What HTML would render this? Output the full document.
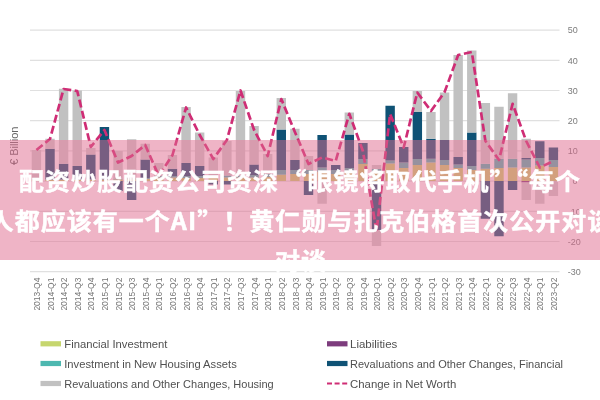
<!DOCTYPE html>
<html lang="zh-CN"><head><meta charset="utf-8"><title>chart</title>
<style>
html,body{margin:0;padding:0;background:#fff;}
body{width:600px;height:400px;position:relative;overflow:hidden;}
.banner{position:absolute;left:0;top:140px;width:600px;height:120px;background:rgba(223,105,142,0.5);}
.title{position:absolute;left:-99px;width:800px;top:159.5px;text-align:center;color:#fff;
font-family:"Noto Sans CJK SC","Liberation Sans",sans-serif;font-weight:700;font-size:25px;letter-spacing:1px;word-spacing:-4px;line-height:40px;white-space:nowrap;-webkit-text-stroke:0.5px #fff;text-spacing-trim:space-all;}
.title div{white-space:nowrap;transform:scaleY(0.935);transform-origin:50% 50%;}
</style></head><body>
<svg width="600" height="400" viewBox="0 0 600 400" style="position:absolute;left:0;top:0">
<g stroke="#e0e0e0" stroke-width="1.2">
<line x1="30" x2="559.5" y1="30.10" y2="30.10"/>
<line x1="30" x2="559.5" y1="60.30" y2="60.30"/>
<line x1="30" x2="559.5" y1="90.50" y2="90.50"/>
<line x1="30" x2="559.5" y1="120.70" y2="120.70"/>
<line x1="30" x2="559.5" y1="150.90" y2="150.90"/>
<line x1="30" x2="559.5" y1="181.10" y2="181.10"/>
<line x1="30" x2="559.5" y1="211.30" y2="211.30"/>
<line x1="30" x2="559.5" y1="241.50" y2="241.50"/>
<line x1="30" x2="559.5" y1="271.70" y2="271.70"/>
</g>
<g>
<rect x="31.70" y="179.80" width="9.4" height="1.20" fill="#c6d66e"/>
<rect x="31.70" y="179.20" width="9.4" height="0.60" fill="#4db8b0"/>
<rect x="31.70" y="150.00" width="9.4" height="29.20" fill="#cecece"/>
<rect x="45.31" y="179.80" width="9.4" height="1.20" fill="#c6d66e"/>
<rect x="45.31" y="179.20" width="9.4" height="0.60" fill="#4db8b0"/>
<rect x="45.31" y="148.75" width="9.4" height="30.45" fill="#0f5275"/>
<rect x="45.31" y="138.75" width="9.4" height="1.25" fill="#c1c1c1"/>
<rect x="45.31" y="140.00" width="9.4" height="8.75" fill="#cecece"/>
<rect x="58.91" y="179.80" width="9.4" height="1.20" fill="#c6d66e"/>
<rect x="58.91" y="179.20" width="9.4" height="0.60" fill="#4db8b0"/>
<rect x="58.91" y="163.75" width="9.4" height="15.45" fill="#0f5275"/>
<rect x="58.91" y="88.75" width="9.4" height="51.25" fill="#c1c1c1"/>
<rect x="58.91" y="140.00" width="9.4" height="23.75" fill="#cecece"/>
<rect x="72.52" y="179.80" width="9.4" height="1.20" fill="#c6d66e"/>
<rect x="72.52" y="179.20" width="9.4" height="0.60" fill="#4db8b0"/>
<rect x="72.52" y="166.00" width="9.4" height="13.20" fill="#0f5275"/>
<rect x="72.52" y="90.50" width="9.4" height="49.50" fill="#c1c1c1"/>
<rect x="72.52" y="140.00" width="9.4" height="26.00" fill="#cecece"/>
<rect x="86.12" y="179.80" width="9.4" height="1.20" fill="#c6d66e"/>
<rect x="86.12" y="179.20" width="9.4" height="0.60" fill="#4db8b0"/>
<rect x="86.12" y="154.50" width="9.4" height="24.70" fill="#0f5275"/>
<rect x="86.12" y="148.00" width="9.4" height="6.50" fill="#cecece"/>
<rect x="99.73" y="179.60" width="9.4" height="1.40" fill="#c6d66e"/>
<rect x="99.73" y="179.00" width="9.4" height="0.60" fill="#4db8b0"/>
<rect x="99.73" y="127.00" width="9.4" height="52.00" fill="#0f5275"/>
<rect x="113.33" y="179.40" width="9.4" height="1.60" fill="#c6d66e"/>
<rect x="113.33" y="178.60" width="9.4" height="0.80" fill="#4db8b0"/>
<rect x="113.33" y="151.00" width="9.4" height="27.60" fill="#cecece"/>
<rect x="113.33" y="181.00" width="9.4" height="10.00" fill="#0f5275"/>
<rect x="126.94" y="179.30" width="9.4" height="1.70" fill="#c6d66e"/>
<rect x="126.94" y="178.40" width="9.4" height="0.90" fill="#4db8b0"/>
<rect x="126.94" y="139.25" width="9.4" height="0.75" fill="#c1c1c1"/>
<rect x="126.94" y="140.00" width="9.4" height="38.40" fill="#cecece"/>
<rect x="126.94" y="181.00" width="9.4" height="19.00" fill="#0f5275"/>
<rect x="140.54" y="179.00" width="9.4" height="2.00" fill="#c6d66e"/>
<rect x="140.54" y="178.00" width="9.4" height="1.00" fill="#4db8b0"/>
<rect x="140.54" y="159.50" width="9.4" height="18.50" fill="#0f5275"/>
<rect x="140.54" y="143.75" width="9.4" height="15.75" fill="#cecece"/>
<rect x="154.15" y="177.50" width="9.4" height="3.50" fill="#c6d66e"/>
<rect x="154.15" y="176.00" width="9.4" height="1.50" fill="#4db8b0"/>
<rect x="154.15" y="163.00" width="9.4" height="13.00" fill="#cecece"/>
<rect x="167.75" y="177.50" width="9.4" height="3.50" fill="#c6d66e"/>
<rect x="167.75" y="176.00" width="9.4" height="1.50" fill="#4db8b0"/>
<rect x="167.75" y="168.75" width="9.4" height="7.25" fill="#0f5275"/>
<rect x="167.75" y="155.00" width="9.4" height="13.75" fill="#cecece"/>
<rect x="181.36" y="178.00" width="9.4" height="3.00" fill="#c6d66e"/>
<rect x="181.36" y="176.00" width="9.4" height="2.00" fill="#4db8b0"/>
<rect x="181.36" y="163.00" width="9.4" height="13.00" fill="#0f5275"/>
<rect x="181.36" y="107.00" width="9.4" height="33.00" fill="#c1c1c1"/>
<rect x="181.36" y="140.00" width="9.4" height="23.00" fill="#cecece"/>
<rect x="194.96" y="178.00" width="9.4" height="3.00" fill="#c6d66e"/>
<rect x="194.96" y="176.00" width="9.4" height="2.00" fill="#4db8b0"/>
<rect x="194.96" y="166.00" width="9.4" height="10.00" fill="#0f5275"/>
<rect x="194.96" y="132.50" width="9.4" height="7.50" fill="#c1c1c1"/>
<rect x="194.96" y="140.00" width="9.4" height="26.00" fill="#cecece"/>
<rect x="208.57" y="177.50" width="9.4" height="3.50" fill="#c6d66e"/>
<rect x="208.57" y="175.50" width="9.4" height="2.00" fill="#4db8b0"/>
<rect x="208.57" y="157.50" width="9.4" height="18.00" fill="#cecece"/>
<rect x="208.57" y="181.00" width="9.4" height="3.50" fill="#0f5275"/>
<rect x="222.17" y="177.50" width="9.4" height="3.50" fill="#c6d66e"/>
<rect x="222.17" y="175.50" width="9.4" height="2.00" fill="#4db8b0"/>
<rect x="222.17" y="141.00" width="9.4" height="34.50" fill="#cecece"/>
<rect x="222.17" y="181.00" width="9.4" height="3.50" fill="#0f5275"/>
<rect x="235.78" y="177.50" width="9.4" height="3.50" fill="#c6d66e"/>
<rect x="235.78" y="175.50" width="9.4" height="2.00" fill="#4db8b0"/>
<rect x="235.78" y="91.00" width="9.4" height="49.00" fill="#c1c1c1"/>
<rect x="235.78" y="140.00" width="9.4" height="35.50" fill="#cecece"/>
<rect x="249.38" y="177.50" width="9.4" height="3.50" fill="#c6d66e"/>
<rect x="249.38" y="175.00" width="9.4" height="2.50" fill="#4db8b0"/>
<rect x="249.38" y="164.50" width="9.4" height="10.50" fill="#0f5275"/>
<rect x="249.38" y="126.00" width="9.4" height="14.00" fill="#c1c1c1"/>
<rect x="249.38" y="140.00" width="9.4" height="24.50" fill="#cecece"/>
<rect x="262.99" y="177.00" width="9.4" height="4.00" fill="#c6d66e"/>
<rect x="262.99" y="174.00" width="9.4" height="3.00" fill="#4db8b0"/>
<rect x="262.99" y="154.00" width="9.4" height="20.00" fill="#cecece"/>
<rect x="276.59" y="174.70" width="9.4" height="6.30" fill="#c6d66e"/>
<rect x="276.59" y="170.00" width="9.4" height="4.70" fill="#4db8b0"/>
<rect x="276.59" y="129.50" width="9.4" height="40.50" fill="#0f5275"/>
<rect x="276.59" y="98.00" width="9.4" height="31.50" fill="#c1c1c1"/>
<rect x="290.20" y="174.00" width="9.4" height="7.00" fill="#c6d66e"/>
<rect x="290.20" y="170.00" width="9.4" height="4.00" fill="#4db8b0"/>
<rect x="290.20" y="160.00" width="9.4" height="10.00" fill="#0f5275"/>
<rect x="290.20" y="128.75" width="9.4" height="11.25" fill="#c1c1c1"/>
<rect x="290.20" y="140.00" width="9.4" height="20.00" fill="#cecece"/>
<rect x="303.81" y="174.00" width="9.4" height="7.00" fill="#c6d66e"/>
<rect x="303.81" y="170.00" width="9.4" height="4.00" fill="#4db8b0"/>
<rect x="303.81" y="156.00" width="9.4" height="14.00" fill="#cecece"/>
<rect x="303.81" y="181.00" width="9.4" height="14.00" fill="#0f5275"/>
<rect x="317.41" y="172.00" width="9.4" height="9.00" fill="#c6d66e"/>
<rect x="317.41" y="167.50" width="9.4" height="4.50" fill="#4db8b0"/>
<rect x="317.41" y="135.00" width="9.4" height="32.50" fill="#0f5275"/>
<rect x="317.41" y="181.00" width="9.4" height="22.75" fill="#cecece"/>
<rect x="331.02" y="174.00" width="9.4" height="7.00" fill="#c6d66e"/>
<rect x="331.02" y="170.00" width="9.4" height="4.00" fill="#4db8b0"/>
<rect x="331.02" y="165.00" width="9.4" height="5.00" fill="#0f5275"/>
<rect x="344.62" y="172.00" width="9.4" height="9.00" fill="#c6d66e"/>
<rect x="344.62" y="168.00" width="9.4" height="4.00" fill="#4db8b0"/>
<rect x="344.62" y="134.50" width="9.4" height="33.50" fill="#0f5275"/>
<rect x="344.62" y="112.50" width="9.4" height="22.00" fill="#c1c1c1"/>
<rect x="358.23" y="164.00" width="9.4" height="17.00" fill="#c6d66e"/>
<rect x="358.23" y="159.00" width="9.4" height="5.00" fill="#4db8b0"/>
<rect x="358.23" y="143.00" width="9.4" height="16.00" fill="#0f5275"/>
<rect x="371.83" y="173.00" width="9.4" height="8.00" fill="#c6d66e"/>
<rect x="371.83" y="169.00" width="9.4" height="4.00" fill="#4db8b0"/>
<rect x="371.83" y="165.00" width="9.4" height="4.00" fill="#cecece"/>
<rect x="371.83" y="181.00" width="9.4" height="49.00" fill="#0f5275"/>
<rect x="371.83" y="230.00" width="9.4" height="16.00" fill="#cecece"/>
<rect x="385.44" y="163.50" width="9.4" height="17.50" fill="#c6d66e"/>
<rect x="385.44" y="160.50" width="9.4" height="3.00" fill="#4db8b0"/>
<rect x="385.44" y="105.75" width="9.4" height="54.75" fill="#0f5275"/>
<rect x="399.04" y="168.00" width="9.4" height="13.00" fill="#c6d66e"/>
<rect x="399.04" y="162.50" width="9.4" height="5.50" fill="#4db8b0"/>
<rect x="399.04" y="147.00" width="9.4" height="15.50" fill="#0f5275"/>
<rect x="412.65" y="165.00" width="9.4" height="16.00" fill="#c6d66e"/>
<rect x="412.65" y="159.00" width="9.4" height="6.00" fill="#4db8b0"/>
<rect x="412.65" y="112.00" width="9.4" height="47.00" fill="#0f5275"/>
<rect x="412.65" y="91.00" width="9.4" height="21.00" fill="#c1c1c1"/>
<rect x="426.25" y="162.50" width="9.4" height="18.50" fill="#c6d66e"/>
<rect x="426.25" y="158.75" width="9.4" height="3.75" fill="#4db8b0"/>
<rect x="426.25" y="138.75" width="9.4" height="20.00" fill="#0f5275"/>
<rect x="426.25" y="112.00" width="9.4" height="26.75" fill="#c1c1c1"/>
<rect x="439.86" y="165.00" width="9.4" height="16.00" fill="#c6d66e"/>
<rect x="439.86" y="160.00" width="9.4" height="5.00" fill="#4db8b0"/>
<rect x="439.86" y="140.00" width="9.4" height="20.00" fill="#0f5275"/>
<rect x="439.86" y="92.50" width="9.4" height="47.50" fill="#c1c1c1"/>
<rect x="453.46" y="168.00" width="9.4" height="13.00" fill="#c6d66e"/>
<rect x="453.46" y="164.50" width="9.4" height="3.50" fill="#4db8b0"/>
<rect x="453.46" y="157.00" width="9.4" height="7.50" fill="#0f5275"/>
<rect x="453.46" y="55.00" width="9.4" height="85.00" fill="#c1c1c1"/>
<rect x="453.46" y="140.00" width="9.4" height="17.00" fill="#cecece"/>
<rect x="467.07" y="170.00" width="9.4" height="11.00" fill="#c6d66e"/>
<rect x="467.07" y="166.00" width="9.4" height="4.00" fill="#4db8b0"/>
<rect x="467.07" y="132.50" width="9.4" height="33.50" fill="#0f5275"/>
<rect x="467.07" y="50.50" width="9.4" height="82.00" fill="#c1c1c1"/>
<rect x="480.67" y="168.75" width="9.4" height="12.25" fill="#c6d66e"/>
<rect x="480.67" y="163.75" width="9.4" height="5.00" fill="#4db8b0"/>
<rect x="480.67" y="103.00" width="9.4" height="37.00" fill="#c1c1c1"/>
<rect x="480.67" y="140.00" width="9.4" height="23.75" fill="#cecece"/>
<rect x="480.67" y="181.00" width="9.4" height="37.75" fill="#0f5275"/>
<rect x="494.28" y="168.00" width="9.4" height="13.00" fill="#c6d66e"/>
<rect x="494.28" y="158.75" width="9.4" height="9.25" fill="#4db8b0"/>
<rect x="494.28" y="106.75" width="9.4" height="33.25" fill="#c1c1c1"/>
<rect x="494.28" y="140.00" width="9.4" height="18.75" fill="#cecece"/>
<rect x="494.28" y="181.00" width="9.4" height="55.25" fill="#0f5275"/>
<rect x="507.88" y="167.50" width="9.4" height="13.50" fill="#c6d66e"/>
<rect x="507.88" y="158.75" width="9.4" height="8.75" fill="#4db8b0"/>
<rect x="507.88" y="93.25" width="9.4" height="46.75" fill="#c1c1c1"/>
<rect x="507.88" y="140.00" width="9.4" height="18.75" fill="#cecece"/>
<rect x="507.88" y="181.00" width="9.4" height="9.00" fill="#0f5275"/>
<rect x="521.49" y="167.50" width="9.4" height="13.50" fill="#c6d66e"/>
<rect x="521.49" y="159.50" width="9.4" height="8.00" fill="#4db8b0"/>
<rect x="521.49" y="158.00" width="9.4" height="1.50" fill="#0f5275"/>
<rect x="521.49" y="138.75" width="9.4" height="1.25" fill="#c1c1c1"/>
<rect x="521.49" y="140.00" width="9.4" height="18.00" fill="#cecece"/>
<rect x="521.49" y="181.00" width="9.4" height="1.50" fill="#7d3c7d"/>
<rect x="521.49" y="182.50" width="9.4" height="17.50" fill="#cecece"/>
<rect x="535.09" y="165.50" width="9.4" height="15.50" fill="#c6d66e"/>
<rect x="535.09" y="158.00" width="9.4" height="7.50" fill="#4db8b0"/>
<rect x="535.09" y="141.25" width="9.4" height="16.75" fill="#0f5275"/>
<rect x="535.09" y="181.00" width="9.4" height="22.75" fill="#cecece"/>
<rect x="548.70" y="167.00" width="9.4" height="14.00" fill="#c6d66e"/>
<rect x="548.70" y="160.00" width="9.4" height="7.00" fill="#4db8b0"/>
<rect x="548.70" y="147.50" width="9.4" height="12.50" fill="#0f5275"/>
<rect x="548.70" y="181.00" width="9.4" height="15.00" fill="#cecece"/>
</g>
<polyline points="36.4,150.0 50.0,139.0 63.6,89.0 77.2,91.0 90.8,147.0 104.4,130.0 118.0,162.5 131.6,156.0 145.2,145.0 158.8,176.0 172.5,155.0 186.1,107.5 199.7,135.0 213.3,159.0 226.9,140.0 240.5,90.5 254.1,130.0 267.7,156.0 281.3,99.0 294.9,132.0 308.5,164.0 322.1,157.5 335.7,161.0 349.3,113.8 362.9,151.0 376.5,231.0 390.1,114.0 403.7,147.5 417.3,92.5 431.0,111.0 444.6,92.0 458.2,55.0 471.8,52.0 485.4,141.0 499.0,160.0 512.6,103.8 526.2,141.0 539.8,167.5 553.4,161.0" fill="none" stroke="#cf2d75" stroke-width="2.7" stroke-dasharray="8 3.5" stroke-linejoin="round"/>
<g font-family="Liberation Sans, sans-serif" font-size="9" fill="#7c7c7c">
<text x="567.8" y="33.30">50</text>
<text x="567.8" y="63.50">40</text>
<text x="567.8" y="93.70">30</text>
<text x="567.8" y="123.90">20</text>
<text x="567.8" y="154.10">10</text>
<text x="572.6" y="184.30">0</text>
<text x="567.8" y="214.50">-10</text>
<text x="567.8" y="244.70">-20</text>
<text x="567.8" y="274.90">-30</text>
</g>
<g font-family="Liberation Sans, sans-serif" font-size="8.5" fill="#767676">
<text transform="translate(40.00,310.6) rotate(-90)" textLength="33" lengthAdjust="spacingAndGlyphs">2013-Q4</text>
<text transform="translate(53.61,310.6) rotate(-90)" textLength="33" lengthAdjust="spacingAndGlyphs">2014-Q1</text>
<text transform="translate(67.21,310.6) rotate(-90)" textLength="33" lengthAdjust="spacingAndGlyphs">2014-Q2</text>
<text transform="translate(80.82,310.6) rotate(-90)" textLength="33" lengthAdjust="spacingAndGlyphs">2014-Q3</text>
<text transform="translate(94.42,310.6) rotate(-90)" textLength="33" lengthAdjust="spacingAndGlyphs">2014-Q4</text>
<text transform="translate(108.03,310.6) rotate(-90)" textLength="33" lengthAdjust="spacingAndGlyphs">2015-Q1</text>
<text transform="translate(121.63,310.6) rotate(-90)" textLength="33" lengthAdjust="spacingAndGlyphs">2015-Q2</text>
<text transform="translate(135.24,310.6) rotate(-90)" textLength="33" lengthAdjust="spacingAndGlyphs">2015-Q3</text>
<text transform="translate(148.84,310.6) rotate(-90)" textLength="33" lengthAdjust="spacingAndGlyphs">2015-Q4</text>
<text transform="translate(162.45,310.6) rotate(-90)" textLength="33" lengthAdjust="spacingAndGlyphs">2016-Q1</text>
<text transform="translate(176.05,310.6) rotate(-90)" textLength="33" lengthAdjust="spacingAndGlyphs">2016-Q2</text>
<text transform="translate(189.66,310.6) rotate(-90)" textLength="33" lengthAdjust="spacingAndGlyphs">2016-Q3</text>
<text transform="translate(203.26,310.6) rotate(-90)" textLength="33" lengthAdjust="spacingAndGlyphs">2016-Q4</text>
<text transform="translate(216.87,310.6) rotate(-90)" textLength="33" lengthAdjust="spacingAndGlyphs">2017-Q1</text>
<text transform="translate(230.47,310.6) rotate(-90)" textLength="33" lengthAdjust="spacingAndGlyphs">2017-Q2</text>
<text transform="translate(244.08,310.6) rotate(-90)" textLength="33" lengthAdjust="spacingAndGlyphs">2017-Q3</text>
<text transform="translate(257.68,310.6) rotate(-90)" textLength="33" lengthAdjust="spacingAndGlyphs">2017-Q4</text>
<text transform="translate(271.29,310.6) rotate(-90)" textLength="33" lengthAdjust="spacingAndGlyphs">2018-Q1</text>
<text transform="translate(284.89,310.6) rotate(-90)" textLength="33" lengthAdjust="spacingAndGlyphs">2018-Q2</text>
<text transform="translate(298.50,310.6) rotate(-90)" textLength="33" lengthAdjust="spacingAndGlyphs">2018-Q3</text>
<text transform="translate(312.11,310.6) rotate(-90)" textLength="33" lengthAdjust="spacingAndGlyphs">2018-Q4</text>
<text transform="translate(325.71,310.6) rotate(-90)" textLength="33" lengthAdjust="spacingAndGlyphs">2019-Q1</text>
<text transform="translate(339.32,310.6) rotate(-90)" textLength="33" lengthAdjust="spacingAndGlyphs">2019-Q2</text>
<text transform="translate(352.92,310.6) rotate(-90)" textLength="33" lengthAdjust="spacingAndGlyphs">2019-Q3</text>
<text transform="translate(366.53,310.6) rotate(-90)" textLength="33" lengthAdjust="spacingAndGlyphs">2019-Q4</text>
<text transform="translate(380.13,310.6) rotate(-90)" textLength="33" lengthAdjust="spacingAndGlyphs">2020-Q1</text>
<text transform="translate(393.74,310.6) rotate(-90)" textLength="33" lengthAdjust="spacingAndGlyphs">2020-Q2</text>
<text transform="translate(407.34,310.6) rotate(-90)" textLength="33" lengthAdjust="spacingAndGlyphs">2020-Q3</text>
<text transform="translate(420.95,310.6) rotate(-90)" textLength="33" lengthAdjust="spacingAndGlyphs">2020-Q4</text>
<text transform="translate(434.55,310.6) rotate(-90)" textLength="33" lengthAdjust="spacingAndGlyphs">2021-Q1</text>
<text transform="translate(448.16,310.6) rotate(-90)" textLength="33" lengthAdjust="spacingAndGlyphs">2021-Q2</text>
<text transform="translate(461.76,310.6) rotate(-90)" textLength="33" lengthAdjust="spacingAndGlyphs">2021-Q3</text>
<text transform="translate(475.37,310.6) rotate(-90)" textLength="33" lengthAdjust="spacingAndGlyphs">2021-Q4</text>
<text transform="translate(488.97,310.6) rotate(-90)" textLength="33" lengthAdjust="spacingAndGlyphs">2022-Q1</text>
<text transform="translate(502.58,310.6) rotate(-90)" textLength="33" lengthAdjust="spacingAndGlyphs">2022-Q2</text>
<text transform="translate(516.18,310.6) rotate(-90)" textLength="33" lengthAdjust="spacingAndGlyphs">2022-Q3</text>
<text transform="translate(529.79,310.6) rotate(-90)" textLength="33" lengthAdjust="spacingAndGlyphs">2022-Q4</text>
<text transform="translate(543.39,310.6) rotate(-90)" textLength="33" lengthAdjust="spacingAndGlyphs">2023-Q1</text>
<text transform="translate(557.00,310.6) rotate(-90)" textLength="33" lengthAdjust="spacingAndGlyphs">2023-Q2</text>
</g>
<text font-family="Liberation Sans, sans-serif" font-size="10.5" fill="#666" transform="translate(17.5,165) rotate(-90)" textLength="38.4" lengthAdjust="spacingAndGlyphs">€ Billion</text>
<g font-family="Liberation Sans, sans-serif" font-size="11.2" fill="#505050">
<rect x="40.5" y="341.2" width="20.5" height="5.2" fill="#c6d66e"/>
<text x="64.25" y="348" textLength="103.25" lengthAdjust="spacingAndGlyphs">Financial Investment</text>
<rect x="40.5" y="360.9" width="20.5" height="5.2" fill="#4db8b0"/>
<text x="64.25" y="367.7" textLength="172.50" lengthAdjust="spacingAndGlyphs">Investment in New Housing Assets</text>
<rect x="40.5" y="380.9" width="20.5" height="5.2" fill="#c1c1c1"/>
<text x="64.25" y="387.7" textLength="209.50" lengthAdjust="spacingAndGlyphs">Revaluations and Other Changes, Housing</text>
<rect x="327" y="341.2" width="20.5" height="5.2" fill="#7d3c7d"/>
<text x="350" y="348" textLength="47.30" lengthAdjust="spacingAndGlyphs">Liabilities</text>
<rect x="327" y="360.9" width="20.5" height="5.2" fill="#0f5275"/>
<text x="350" y="367.7" textLength="213.00" lengthAdjust="spacingAndGlyphs">Revaluations and Other Changes, Financial</text>
<line x1="327" x2="347.5" y1="383.5" y2="383.5" stroke="#cf2d75" stroke-width="2" stroke-dasharray="5 2.6"/>
<text x="350" y="387.7" textLength="106.25" lengthAdjust="spacingAndGlyphs">Change in Net Worth</text>
</g>
</svg>
<div class="banner"></div>
<div class="title"><div style="position:relative;left:-1px">配资炒股配资公司资深 “眼镜将取代手机”<span style="margin-left:-12.5px">“</span>每个</div><div>人都应该有一个AI”！黄仁勋与扎克伯格首次公开对谈</div><div>对谈</div></div>
</body></html>
